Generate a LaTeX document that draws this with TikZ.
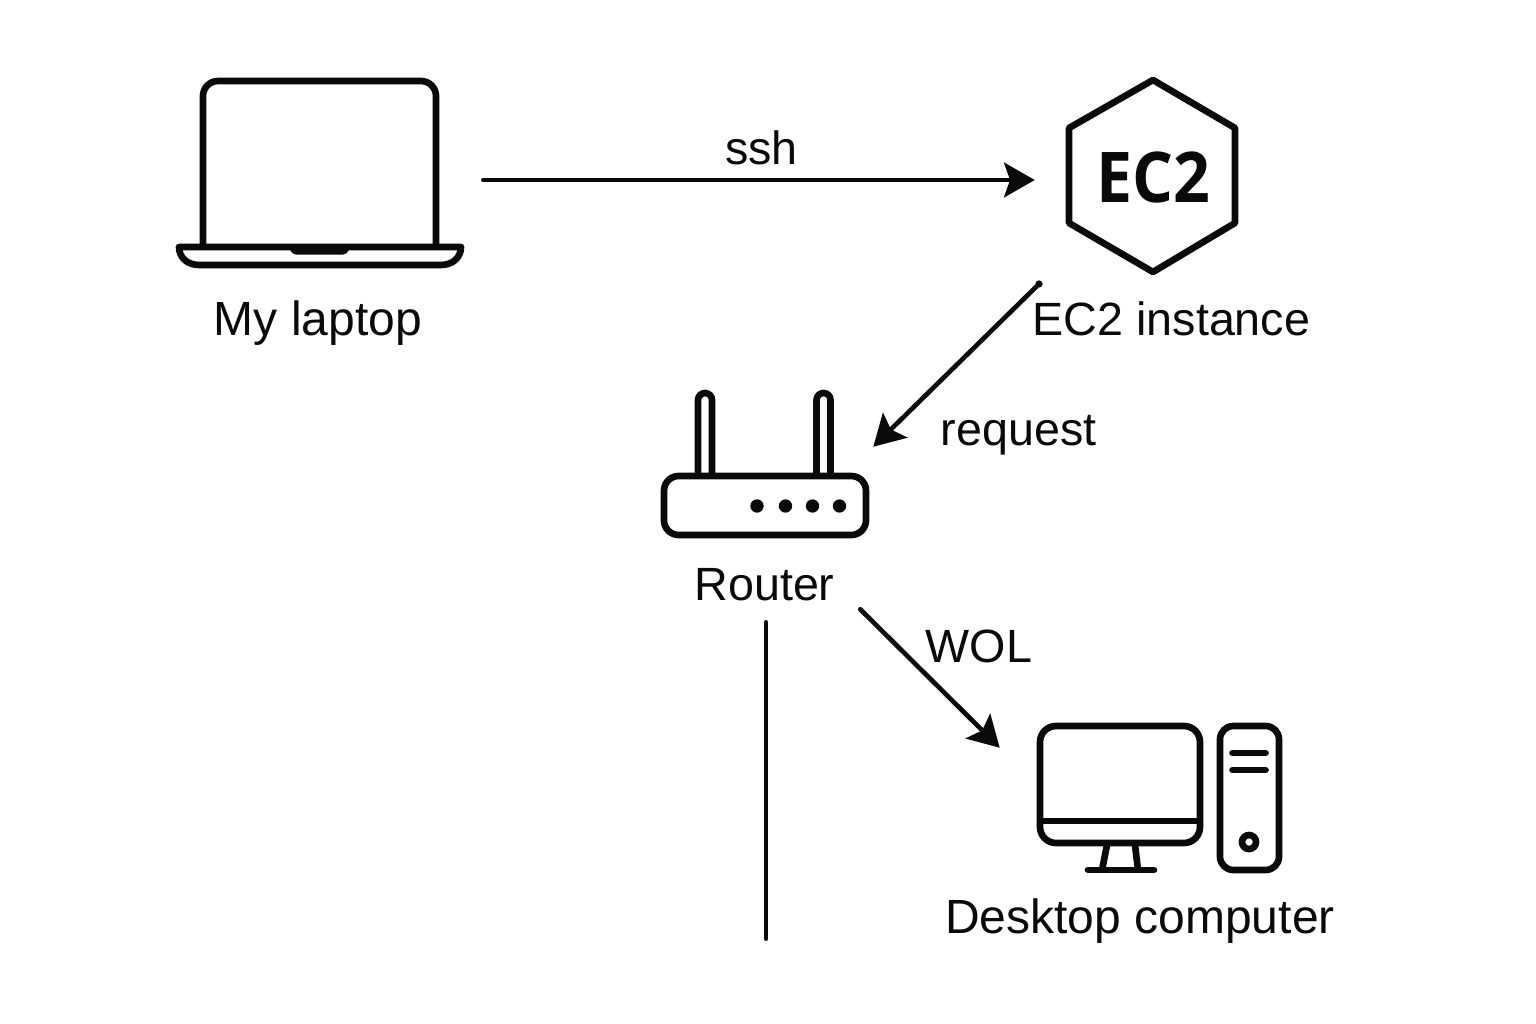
\documentclass[tikz,border=0pt]{standalone}
\usepackage{fontspec}
\setmainfont{Liberation Sans}
\newfontfamily\badgefont{Open Sans}[BoldFont={* Bold}]
\usetikzlibrary{arrows.meta}
\tikzset{
  x=0.75pt,y=-0.75pt,
  icon/.style={draw=inkc,line width=5pt,line join=round,fill=none},
  conn/.style={draw=inkc,line width=3.5pt,line cap=round},
  arrowc/.style={conn,-{Stealth[length=23pt,width=26pt,inset=4.5pt]}},
  lbl/.style={anchor=base,text=inkc,inner sep=0pt,font=\fontsize{35pt}{40pt}\selectfont},
  lblwide/.style={lbl,font=\fontsize{36pt}{40pt}\selectfont},
  dot/.style={fill=inkc,circle,inner sep=0pt,minimum size=10pt},
  pin/.style={inner sep=0pt,minimum size=0pt},
  startdot/.style={fill=inkc,circle,inner sep=0pt,minimum size=5.5pt}
}
\definecolor{inkc}{HTML}{0A0A0A}
\begin{document}
\begin{tikzpicture}
\useasboundingbox (0,0) rectangle (1536,1024);
\fill[white] (0,0) rectangle (1536,1024);
% laptop
\draw[icon,rounded corners=11.25pt] (203,247) -- (203,81) -- (436,81) -- (436,247);
\draw[icon] (179,247) -- (461,247) .. controls (461,258) and (452,265) .. (441,265) -- (199,265) .. controls (188,265) and (179,258) .. (179,247) -- cycle;
\fill[inkc,rounded corners=3pt] (289,247) -- (350,247) -- (347,254.5) -- (292,254.5) -- cycle;
\node[lblwide] (laptoplabel) at (318,335) {My laptop};
% EC2 hexagon
\draw[icon] (1153,80) -- (1235,128) -- (1235,223) -- (1153,272) -- (1069,223) -- (1069,128) -- cycle;
\node[anchor=base,inner sep=0pt,text=inkc,font=\badgefont\bfseries\fontsize{52.5pt}{60pt}\selectfont] (ectwo) at (1153.5,202) {\scalebox{.92}[1]{EC2}};
\node[lbl] (eclabel) at (1171.5,335) {EC2 instance};
% router
\draw[icon] (698,476) -- (698,400) arc[start angle=180,end angle=360,radius=7] -- (712,476);
\draw[icon] (816.5,476) -- (816.5,400) arc[start angle=180,end angle=360,radius=7] -- (830.5,476);
\draw[icon,rounded corners=11pt] (664,476) rectangle (866,535);
\node[dot] (d1) at (757,506) {};
\node[dot] (d2) at (785.5,506) {};
\node[dot] (d3) at (812.5,506) {};
\node[dot] (d4) at (839.5,506) {};
\node[lbl] (routerlabel) at (764.5,600) {Router};
% desktop
\draw[icon,rounded corners=12pt] (1040,726) rectangle (1200,843);
\draw[icon] (1040,821) -- (1200,821);
\draw[icon] (1107,845) -- (1102,870);
\draw[icon] (1135,845) -- (1138,870);
\draw[icon,line cap=round] (1088,870) -- (1154,870);
\draw[icon,rounded corners=10pt] (1220,726) rectangle (1279,870);
\draw[icon,line cap=round] (1232.5,753) -- (1265.5,753);
\draw[icon,line cap=round] (1232.5,770) -- (1265.5,770);
\draw[icon] (1249,842) circle[radius=5.25pt];
\node[lblwide] (desklabel) at (1140,933) {Desktop computer};
% connectors
\node[pin] (a) at (483,180) {};
\node[pin] (b) at (1035,180) {};
\node[startdot] (c) at (1039,284) {};
\node[pin] (d) at (873,447) {};
\node[pin] (e) at (860,609) {};
\node[pin] (f) at (1000,748) {};
\node[pin] (g) at (766,622) {};
\node[pin] (h) at (766,939) {};
\draw[arrowc] (a) -- (b);
\draw[arrowc] (c) -- (d);
\draw[arrowc] (e) -- (f);
\draw[conn] (g) -- (h);
\node[lbl] (ssh) at (761.5,165) {ssh};
\node[lbl] (request) at (1018.5,445) {request};
\node[lbl] (wol) at (979,662) {WOL};
\end{tikzpicture}
\end{document}
